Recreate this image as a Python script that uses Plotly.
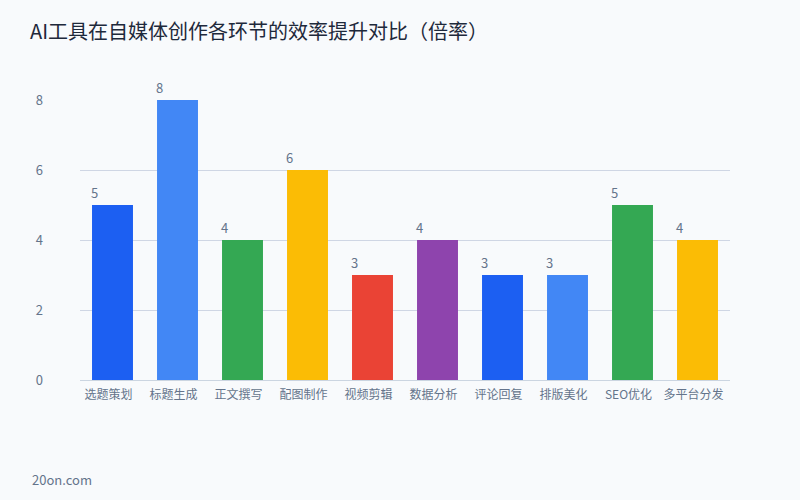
import plotly.graph_objects as go

categories = ["选题策划", "标题生成", "正文撰写", "配图制作", "视频剪辑", "数据分析", "评论回复", "排版美化", "SEO优化", "多平台分发"]
values = [5, 8, 4, 6, 3, 4, 3, 3, 5, 4]
colors = ["#1c5ff2", "#4287f5", "#34a853", "#fbbc05", "#ea4335", "#8e44ad", "#1c5ff2", "#4287f5", "#34a853", "#fbbc05"]
y_ticks = [0, 2, 4, 6, 8]

font_family = "Noto Sans CJK SC, Noto Sans, sans-serif"

fig = go.Figure()
fig.add_trace(go.Bar(x=categories, y=values, marker=dict(color=colors, line=dict(width=0)),
                     hoverinfo="x+y"))

for c, v in zip(categories, values):
    fig.add_annotation(x=c, y=v, text=str(v), showarrow=False, xanchor="left", yanchor="bottom",
                       xshift=-24, yshift=1, font=dict(size=13, color="#64748b", family=font_family))

fig.add_annotation(text="20on.com", xref="paper", yref="paper", x=-0.0769, y=-0.357, xanchor="left", yanchor="middle",
                   showarrow=False, font=dict(size=13, color="#64748b", family=font_family))

fig.update_layout(
    width=800, height=500,
    paper_bgcolor="#f8fafc", plot_bgcolor="#f8fafc",
    margin=dict(l=80, r=70, t=100, b=120),
    bargap=0.37,
    showlegend=False,
    title=dict(text="AI工具在自媒体创作各环节的效率提升对比（倍率）", x=30/800, xanchor="left", y=1-32/500, yanchor="middle",
               font=dict(size=20, color="#1e293b", family=font_family)),
    font=dict(family=font_family),
    xaxis=dict(showgrid=False, showline=True, linecolor="#cbd5e1", linewidth=1, ticks="",
               ticklabelstandoff=4, ticklabelshift=-4,
               tickfont=dict(size=12, color="#64748b", family=font_family)),
    yaxis=dict(range=[0, 8], tickvals=y_ticks, showgrid=True, gridcolor="#cfd6e4", gridwidth=1,
               zeroline=False, showline=False, ticks="", ticklabelstandoff=36,
               tickfont=dict(size=13, color="#64748b", family=font_family)),
)

fig.write_html("out.html", config={"displayModeBar": False},
               post_script="document.body.style.margin='0';document.body.style.background='#f8fafc';")
